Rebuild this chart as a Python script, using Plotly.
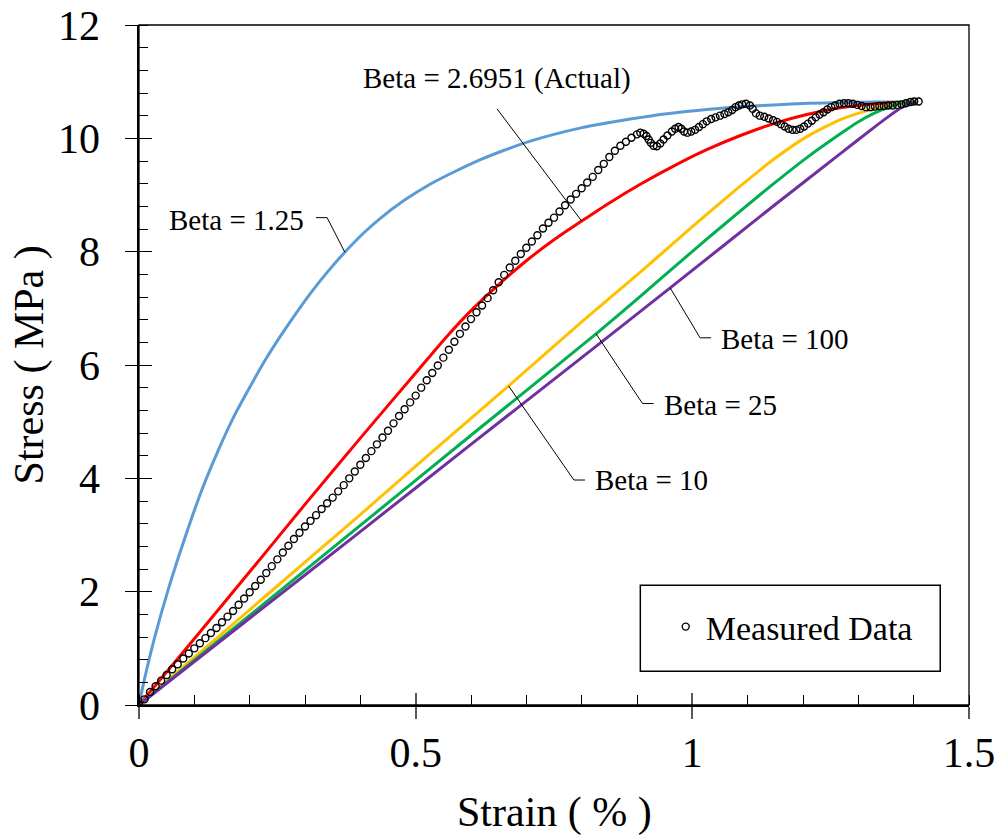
import plotly.graph_objects as go

# ---------------- data ----------------
strain_meas = [
    0.000, 0.010, 0.020, 0.030, 0.040, 0.050, 0.060, 0.070, 0.080, 0.090,
    0.100, 0.110, 0.120, 0.130, 0.140, 0.150, 0.160, 0.170, 0.180, 0.190,
    0.200, 0.210, 0.220, 0.230, 0.240, 0.250, 0.260, 0.270, 0.280, 0.290,
    0.300, 0.310, 0.320, 0.330, 0.340, 0.350, 0.360, 0.370, 0.380, 0.390,
    0.400, 0.410, 0.420, 0.430, 0.440, 0.450, 0.460, 0.470, 0.480, 0.490,
    0.500, 0.510, 0.520, 0.530, 0.540, 0.550, 0.560, 0.570, 0.580, 0.590,
    0.600, 0.610, 0.620, 0.630, 0.640, 0.650, 0.660, 0.670, 0.680, 0.690,
    0.700, 0.710, 0.720, 0.730, 0.740, 0.750, 0.760, 0.770, 0.780, 0.790,
    0.800, 0.810, 0.820, 0.830, 0.840, 0.850, 0.860, 0.870, 0.880, 0.890,
    0.900, 0.906, 0.912, 0.917, 0.921, 0.925, 0.930, 0.936, 0.942, 0.948,
    0.955, 0.963, 0.969, 0.975, 0.980, 0.985, 0.991, 0.998, 1.005, 1.012,
    1.019, 1.026, 1.034, 1.042, 1.050, 1.058, 1.065, 1.072, 1.078, 1.084,
    1.090, 1.097, 1.104, 1.109, 1.115, 1.122, 1.130, 1.138, 1.146, 1.153,
    1.160, 1.167, 1.174, 1.181, 1.188, 1.195, 1.202, 1.209, 1.216, 1.223,
    1.230, 1.237, 1.244, 1.251, 1.258, 1.266, 1.274, 1.282, 1.290, 1.298,
    1.306, 1.314, 1.322, 1.330, 1.338, 1.346, 1.354, 1.362, 1.370, 1.378,
    1.386, 1.394, 1.401, 1.409,
]
stress_meas = [
    0.00, 0.10, 0.23, 0.33, 0.43, 0.53, 0.63, 0.72, 0.82, 0.91,
    1.00, 1.09, 1.18, 1.27, 1.36, 1.46, 1.56, 1.66, 1.77, 1.88,
    1.99, 2.10, 2.21, 2.33, 2.45, 2.57, 2.69, 2.81, 2.93, 3.04,
    3.15, 3.25, 3.35, 3.46, 3.56, 3.66, 3.77, 3.88, 4.00, 4.12,
    4.24, 4.36, 4.48, 4.60, 4.72, 4.84, 4.97, 5.10, 5.22, 5.34,
    5.46, 5.60, 5.73, 5.86, 5.99, 6.13, 6.27, 6.41, 6.55, 6.68,
    6.81, 6.93, 7.05, 7.18, 7.32, 7.46, 7.59, 7.72, 7.84, 7.96,
    8.07, 8.18, 8.29, 8.41, 8.51, 8.60, 8.71, 8.82, 8.92, 9.02,
    9.12, 9.22, 9.32, 9.44, 9.55, 9.67, 9.78, 9.87, 9.94, 10.01,
    10.07, 10.10, 10.08, 10.04, 9.98, 9.92, 9.87, 9.86, 9.91, 9.98,
    10.05, 10.12, 10.17, 10.20, 10.17, 10.12, 10.10, 10.12, 10.15, 10.20,
    10.25, 10.30, 10.34, 10.37, 10.40, 10.43, 10.46, 10.50, 10.55, 10.58,
    10.60, 10.61, 10.58, 10.52, 10.44, 10.40, 10.38, 10.35, 10.32, 10.29,
    10.25, 10.21, 10.17, 10.15, 10.15, 10.17, 10.21, 10.26, 10.31, 10.37,
    10.42, 10.46, 10.51, 10.55, 10.58, 10.61, 10.62, 10.62, 10.61, 10.59,
    10.57, 10.55, 10.55, 10.56, 10.57, 10.57, 10.58, 10.58, 10.59, 10.60,
    10.62, 10.64, 10.65, 10.65,
]

strain_b125 = [0, 0.010, 0.028, 0.052, 0.083, 0.113, 0.143, 0.173, 0.206, 0.229,
               0.255, 0.285, 0.315, 0.343, 0.372, 0.405, 0.435, 0.48, 0.526, 0.57,
               0.616, 0.66, 0.707, 0.75, 0.797, 0.845, 0.888, 0.95, 1.026, 1.09,
               1.147, 1.21, 1.2675, 1.33, 1.405]
stress_b125 = [0, 0.46, 1.18, 2.01, 2.95, 3.78, 4.49, 5.12, 5.71, 6.10,
               6.50, 6.93, 7.33, 7.67, 7.99, 8.32, 8.58, 8.91, 9.19, 9.41,
               9.62, 9.79, 9.95, 10.07, 10.18, 10.27, 10.34, 10.43, 10.51, 10.56,
               10.59, 10.62, 10.63, 10.64, 10.64]

strain_b26951 = [0, 0.1, 0.2, 0.3, 0.4, 0.5, 0.556, 0.6, 0.65, 0.7,
                 0.75, 0.8, 0.85, 0.906, 0.966, 1.026, 1.087, 1.147, 1.207, 1.2675,
                 1.328, 1.405]
stress_b26951 = [0, 1.17, 2.35, 3.54, 4.71, 5.86, 6.50, 6.96, 7.42, 7.84,
                 8.21, 8.54, 8.86, 9.19, 9.51, 9.80, 10.05, 10.26, 10.42, 10.54,
                 10.61, 10.64]

strain_b10 = [0, 0.1, 0.2, 0.3, 0.4, 0.535, 0.668, 0.8, 0.906, 0.966,
              1.026, 1.087, 1.147, 1.207, 1.2675, 1.316, 1.358, 1.388, 1.405]
stress_b10 = [0, 0.84, 1.68, 2.52, 3.36, 4.51, 5.63, 6.76, 7.64, 8.15,
              8.66, 9.16, 9.63, 10.03, 10.33, 10.49, 10.59, 10.63, 10.64]

strain_b25 = [0, 0.2, 0.4, 0.6, 0.826, 0.906, 0.966, 1.026, 1.087, 1.147,
              1.207, 1.2675, 1.298, 1.328, 1.358, 1.388, 1.405]
stress_b25 = [0, 1.58, 3.17, 4.76, 6.55, 7.21, 7.72, 8.22, 8.72, 9.20,
              9.66, 10.08, 10.28, 10.44, 10.56, 10.63, 10.64]

strain_b100 = [0, 0.2, 0.4, 0.6, 0.8, 0.96, 1.147, 1.2675, 1.328, 1.358,
               1.376, 1.39, 1.405]
stress_b100 = [0, 1.53, 3.06, 4.60, 6.13, 7.36, 8.81, 9.73, 10.19, 10.41,
               10.53, 10.60, 10.64]

x_tick_vals = [0, 0.5, 1, 1.5]
x_tick_text = ["0", "0.5", "1", "1.5"]
y_tick_vals = [0, 2, 4, 6, 8, 10, 12]
y_tick_text = ["0", "2", "4", "6", "8", "10", "12"]

label_text = ["Beta = 1.25", "Beta = 2.6951 (Actual)", "Beta = 100", "Beta = 25", "Beta = 10"]
label_x = [0.301, 0.647, 1.048, 0.945, 0.821]
label_y = [8.56, 11.06, 6.46, 5.30, 3.97]
label_anchor = ["right", "center", "left", "left", "left"]
# leader lines (strain, stress) per label
leader_x = [[0.320, 0.340, 0.372], [0.647, 0.800], [0.960, 1.014, 1.034],
            [0.826, 0.910, 0.930], [0.668, 0.786, 0.806]]
leader_y = [[8.60, 8.60, 7.99], [10.52, 8.54], [7.36, 6.48, 6.48],
            [6.55, 5.32, 5.32], [5.63, 3.97, 3.97]]

legend_box_x = [0.906, 1.448]
legend_box_y = [0.595, 2.115]

FONT = "Liberation Serif"

fig = go.Figure()

curves = [
    (strain_b125, stress_b125, "#5B9BD5", "Beta = 1.25"),
    (strain_b26951, stress_b26951, "#FF0000", "Beta = 2.6951"),
    (strain_b10, stress_b10, "#FFC000", "Beta = 10"),
    (strain_b25, stress_b25, "#00B050", "Beta = 25"),
    (strain_b100, stress_b100, "#7030A0", "Beta = 100"),
]
for xs, ys, col, nm in curves:
    fig.add_trace(go.Scatter(x=xs, y=ys, mode="lines", name=nm,
                             line=dict(color=col, width=3, shape="spline", smoothing=0.6),
                             showlegend=False))

fig.add_trace(go.Scatter(x=strain_meas, y=stress_meas, mode="markers", name="Measured Data",
                         marker=dict(symbol="circle-open", size=7, color="black",
                                     line=dict(width=1.4, color="black"))))

# empty trace carrying the overlay axes used for inward major ticks
fig.add_trace(go.Scatter(x=[], y=[], xaxis="x2", yaxis="y2", showlegend=False, hoverinfo="skip"))

shapes = []
for xs, ys in zip(leader_x, leader_y):
    path = "M " + " L ".join(f"{a},{b}" for a, b in zip(xs, ys))
    shapes.append(dict(type="path", xref="x", yref="y", path=path,
                       line=dict(color="black", width=1)))
shapes.append(dict(type="rect", xref="x", yref="y",
                   x0=legend_box_x[0], x1=legend_box_x[1], y0=legend_box_y[0], y1=legend_box_y[1],
                   line=dict(color="black", width=1.5)))
shapes.append(dict(type="rect", xref="paper", yref="paper", x0=0, x1=1, y0=0, y1=1,
                   line=dict(color="black", width=1.3)))

annotations = []
for t, ax, ay, anc in zip(label_text, label_x, label_y, label_anchor):
    annotations.append(dict(x=ax, y=ay, xref="x", yref="y", text=t, showarrow=False,
                            xanchor=anc, yanchor="middle",
                            font=dict(family=FONT, size=29, color="black")))
annotations.append(dict(x=0.5, y=-0.158, xref="paper", yref="paper", text="Strain ( % )",
                        showarrow=False, xanchor="center", yanchor="middle",
                        font=dict(family=FONT, size=42, color="black")))
annotations.append(dict(x=-0.132, y=0.5, xref="paper", yref="paper", text="Stress ( MPa )",
                        showarrow=False, xanchor="center", yanchor="middle", textangle=-90,
                        font=dict(family=FONT, size=42, color="black")))

fig.update_layout(
    width=999, height=839,
    margin=dict(l=139, r=30, t=25, b=134, autoexpand=False),
    paper_bgcolor="white", plot_bgcolor="white",
    font=dict(family=FONT, color="black"),
    shapes=shapes, annotations=annotations,
    showlegend=True,
    legend=dict(x=0.6346, y=0.1147, xanchor="left", yanchor="middle",
                bgcolor="rgba(0,0,0,0)", borderwidth=0,
                font=dict(family=FONT, size=34, color="black")),
    xaxis=dict(range=[0, 1.5], tickvals=x_tick_vals, ticktext=x_tick_text,
               ticks="outside", ticklen=12, tickwidth=2, tickcolor="#595959",
               showline=True, linewidth=2, linecolor="black",
               showgrid=False, zeroline=False, automargin=False,
               tickfont=dict(family=FONT, size=42, color="black"),
               ticklabelstandoff=-2,
               minor=dict(dtick=0.1, tick0=0, ticks="inside", ticklen=10,
                          tickwidth=1, tickcolor="black", showgrid=False)),
    yaxis=dict(range=[0, 12], tickvals=y_tick_vals, ticktext=y_tick_text,
               ticks="outside", ticklen=12.5, tickwidth=1.3, tickcolor="black",
               showline=True, linewidth=2, linecolor="black",
               showgrid=False, zeroline=False, automargin=False,
               tickfont=dict(family=FONT, size=42, color="black"),
               ticklabelstandoff=16,
               minor=dict(dtick=0.4, tick0=0, ticks="inside", ticklen=9,
                          tickwidth=1, tickcolor="black", showgrid=False)),
    xaxis2=dict(range=[0, 1.5], overlaying="x", anchor="y", side="bottom",
                tickvals=x_tick_vals, ticks="inside", ticklen=12, tickwidth=2,
                tickcolor="#595959", showticklabels=False, showline=False,
                showgrid=False, zeroline=False, automargin=False),
    yaxis2=dict(range=[0, 12], overlaying="y", anchor="x", side="left",
                tickvals=y_tick_vals, ticks="inside", ticklen=12.5, tickwidth=1.3,
                tickcolor="black", showticklabels=False, showline=False,
                showgrid=False, zeroline=False, automargin=False),
)

# remove the browser's default 8px page margin so the figure sits at the window corner
fig.write_html("out.html", config={"displayModeBar": False},
               post_script="document.body.style.margin='0px';document.body.style.overflow='hidden';")
